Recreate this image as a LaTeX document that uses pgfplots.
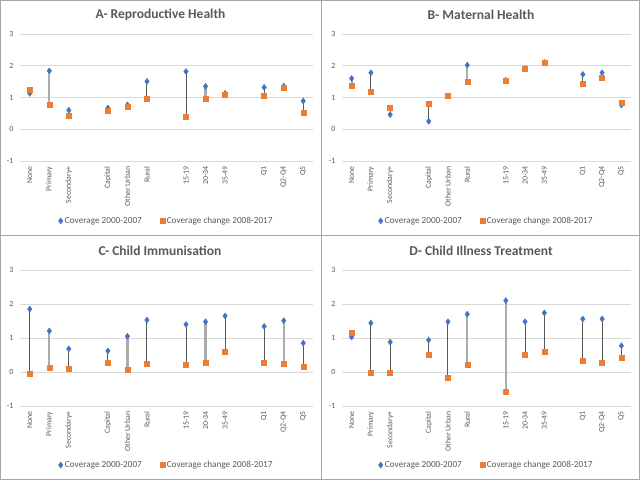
\documentclass[border=0pt]{standalone}
\usepackage{pgfplots}
\pgfplotsset{compat=1.18}
\usepackage{pgfplotstable}
\usepackage{fontspec}
\setmainfont{Carlito}
\definecolor{cblue}{HTML}{4472C4}
\definecolor{corange}{HTML}{ED7D31}
\definecolor{ctext}{HTML}{595959}
\definecolor{cgrid}{HTML}{D9D9D9}
\definecolor{cframe}{HTML}{A6A6A6}
\definecolor{cdark}{HTML}{595959}
\definecolor{clight}{HTML}{ABABAB}

% x = slot, b = coverage 2000-2007, o = coverage change 2008-2017, s = line style (0 dark, 1 light)
\pgfplotstableread{
x b o s
0 1.13 1.24 0
1 1.84 0.78 1
2 0.60 0.42 0
4 0.67 0.59 0
5 0.77 0.72 0
6 1.51 0.95 0
8 1.82 0.38 0
9 1.35 0.95 1
10 1.13 1.08 0
12 1.32 1.05 0
13 1.36 1.31 0
14 0.89 0.51 0
}\tabA
\pgfplotstableread{
x b o s
0 1.60 1.36 1
1 1.78 1.19 0
2 0.46 0.68 0
4 0.25 0.80 0
5 1.05 1.05 0
6 2.02 1.49 1
8 1.54 1.54 0
9 1.92 1.92 0
10 2.11 2.11 0
12 1.73 1.45 0
13 1.78 1.61 0
14 0.76 0.83 0
}\tabB
\pgfplotstableread{
x b o s
0 1.85 -0.05 0
1 1.21 0.13 1
2 0.68 0.11 0
4 0.62 0.28 0
5 1.05 0.07 1
6 1.53 0.25 0
8 1.40 0.22 0
9 1.48 0.27 1
10 1.65 0.61 0
12 1.34 0.27 0
13 1.51 0.25 1
14 0.85 0.15 0
}\tabC
\pgfplotstableread{
x b o s
0 1.03 1.15 0
1 1.44 -0.03 0
2 0.88 -0.01 0
4 0.94 0.51 0
5 1.48 -0.17 0
6 1.70 0.21 1
8 2.10 -0.59 1
9 1.48 0.51 0
10 1.74 0.59 0
12 1.56 0.33 0
13 1.56 0.28 0
14 0.77 0.42 0
}\tabD

\pgfplotsset{
  panel/.style={
    scale only axis,
    xmin=-0.5, xmax=14.5, ymin=-1, ymax=3,
    ytick={-1,0,1,2,3},
    xtick={0,1,2,4,5,6,8,9,10,12,13,14},
    xticklabels={None,Primary,Secondary+,Capital,Other Urban,Rural,15-19,20-34,35-49,Q1,Q2-Q4,Q5},
    x tick label style={rotate=90, anchor=east, font=\fontsize{7.8}{9}\selectfont, text=ctext},
    y tick label style={font=\fontsize{8}{9}\selectfont, text=ctext},
    /pgf/number format/assume math mode=true,
    ymajorgrids, major grid style={cgrid, line width=0.8pt},
    axis line style={draw=none},
    major tick style={draw=none},
    xticklabel shift=2pt,
    yticklabel shift=3pt,
    clip=false,
    legend columns=2,
    legend style={draw=none, fill=none, font=\fontsize{9.2}{11}\selectfont, text=ctext,
      /tikz/every even column/.append style={column sep=16pt}},
    legend image code/.code={\draw[#1] plot coordinates {(0pt,0pt)};},
  },
}

\newcommand{\panelplots}[1]{%
  \addplot[forget plot, restrict expr to domain={\thisrow{s}}{-0.5:0.5},
    quiver={u=0, v=\thisrow{o}-\thisrow{b},
      every arrow/.append style={draw=cdark, line width=1pt}}]
    table[x=x, y=b] {#1};
  \addplot[forget plot, restrict expr to domain={\thisrow{s}}{0.5:1.5},
    quiver={u=0, v=\thisrow{o}-\thisrow{b},
      every arrow/.append style={draw=clight, line width=2.2pt}}]
    table[x=x, y=b] {#1};
  \addplot[only marks, mark=diamond*, mark size=3pt, color=cblue] table[x=x, y=b] {#1};
  \addlegendentry{Coverage 2000-2007}
  \addplot[only marks, mark=square*, mark size=2.5pt, color=corange] table[x=x, y=o] {#1};
  \addlegendentry{Coverage change 2008-2017}
}

\begin{document}
\begin{tikzpicture}[x=1pt,y=1pt]
\useasboundingbox (0,0) rectangle (640,480);
\draw[cframe, line width=0.8pt] (0.5,0.5) rectangle (639.5,479.5);
\draw[cframe, line width=0.8pt] (321,0.5) -- (321,479.5);
\draw[cframe, line width=0.8pt] (0.5,245) -- (639.5,245);

\node[font=\bfseries\fontsize{13.5}{15}\selectfont, text=ctext] at (160.5,465) {A- Reproductive Health};
\node[font=\bfseries\fontsize{13.5}{15}\selectfont, text=ctext] at (481,465) {B- Maternal Health};
\node[font=\bfseries\fontsize{13.5}{15}\selectfont, text=ctext] at (160,229) {C- Child Immunisation};
\node[font=\bfseries\fontsize{13.5}{15}\selectfont, text=ctext] at (481,229) {D- Child Illness Treatment};

\begin{axis}[panel, anchor=south west, at={(20pt,319pt)}, width=293pt, height=127pt,
  legend style={at={(axis description cs:0.5,-0.472)}, anchor=center}]
\panelplots{\tabA}
\end{axis}
\begin{axis}[panel, anchor=south west, at={(342pt,319pt)}, width=289pt, height=127pt,
  legend style={at={(axis description cs:0.5,-0.472)}, anchor=center}]
\panelplots{\tabB}
\end{axis}
\begin{axis}[panel, anchor=south west, at={(20pt,74pt)}, width=293pt, height=136pt,
  legend style={at={(axis description cs:0.5,-0.434)}, anchor=center}]
\panelplots{\tabC}
\end{axis}
\begin{axis}[panel, anchor=south west, at={(342pt,74pt)}, width=289pt, height=136pt,
  legend style={at={(axis description cs:0.5,-0.434)}, anchor=center}]
\panelplots{\tabD}
\end{axis}
\end{tikzpicture}
\end{document}
